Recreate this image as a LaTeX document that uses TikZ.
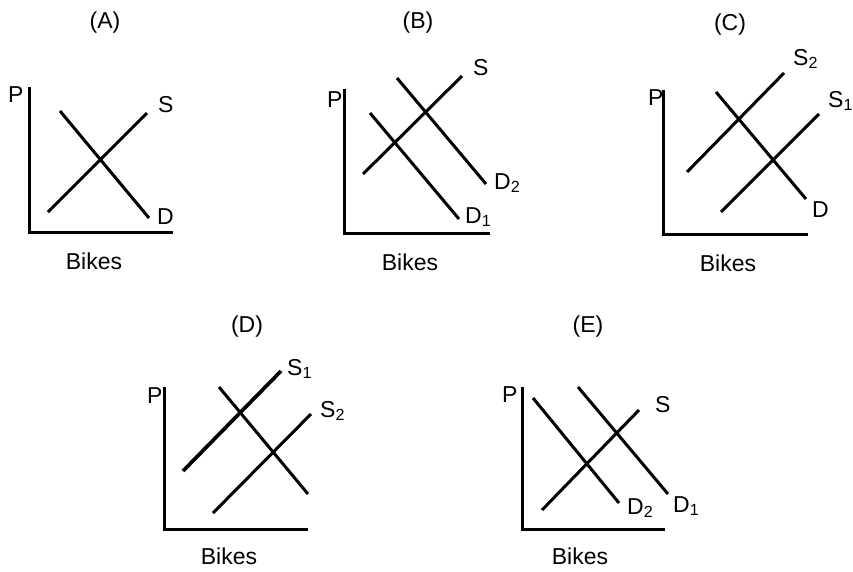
\documentclass[tikz,border=0pt]{standalone}
\usepackage{fontspec}
\setmainfont{Liberation Sans}
\begin{document}
\begin{tikzpicture}[x=1pt,y=-1pt,
  curve/.style={line width=3pt},
  boldcurve/.style={line width=3.7pt},
  axis/.style={line width=3pt},
  lbl/.style={inner sep=0pt,anchor=base west,font=\fontsize{23}{27}\selectfont},
  ttl/.style={inner sep=0pt,font=\fontsize{23}{27}\selectfont}]
\useasboundingbox (0,0) rectangle (853,571);
% ---------- Panel A
\node[ttl] (tA) at (105,23) {(A)};
\draw[axis] (29,87) -- (29,232) -- (173,232);
\node[lbl] (pA) at (8,102) {P};
\draw[curve] (48,212) -- (147,113);
\draw[curve] (60,111) -- (149,218);
\node[lbl] (sA) at (158,112) {S};
\node[lbl] (dA) at (157,224) {D};
\node[ttl] (bA) at (94,261) {Bikes};
% ---------- Panel B
\node[ttl] (tB) at (418,23) {(B)};
\draw[axis] (344,89) -- (344,233) -- (490,233);
\node[lbl] (pB) at (327,107) {P};
\draw[curve] (363,174) -- (462,76);
\draw[curve] (370,113) -- (459,219);
\draw[curve] (397,78) -- (486,184);
\node[lbl] (sB) at (473,75) {S};
\node[lbl] (d2B) at (494,189) {D\textsubscript{2}};
\node[lbl] (d1B) at (465,223) {D\textsubscript{1}};
\node[ttl] (bB) at (410,262) {Bikes};
% ---------- Panel C
\node[ttl] (tC) at (730,25) {(C)};
\draw[axis] (663,90) -- (663,234) -- (808,234);
\node[lbl] (pC) at (648,105) {P};
\draw[curve] (687,172) -- (784,73);
\draw[curve] (721,212) -- (819,114);
\draw[curve] (716,92) -- (806,199);
\node[lbl] (s2C) at (793,65) {S\textsubscript{2}};
\node[lbl] (s1C) at (828,107) {S\textsubscript{1}};
\node[lbl] (dC) at (812,217) {D};
\node[ttl] (bC) at (728,263) {Bikes};
% ---------- Panel D
\node[ttl] (tD) at (247,327) {(D)};
\draw[axis] (164,387) -- (164,529) -- (308,529);
\node[lbl] (pD) at (147,403) {P};
\draw[boldcurve] (183,471) -- (281,371);
\draw[curve] (213,513) -- (311,414);
\draw[curve] (219,387) -- (308,494);
\node[lbl] (s1D) at (287,375) {S\textsubscript{1}};
\node[lbl] (s2D) at (320,417) {S\textsubscript{2}};
\node[ttl] (bD) at (229,556) {Bikes};
% ---------- Panel E
\node[ttl] (tE) at (588,327) {(E)};
\draw[axis] (522,387) -- (522,529) -- (665,529);
\node[lbl] (pE) at (502,402) {P};
\draw[curve] (542,510) -- (639,410);
\draw[curve] (533,398) -- (619,503);
\draw[curve] (578,387) -- (668,494);
\node[lbl] (sE) at (655,412) {S};
\node[lbl] (d2E) at (627,514) {D\textsubscript{2}};
\node[lbl] (d1E) at (673,512) {D\textsubscript{1}};
\node[ttl] (bE) at (580,556) {Bikes};
\end{tikzpicture}
\end{document}
